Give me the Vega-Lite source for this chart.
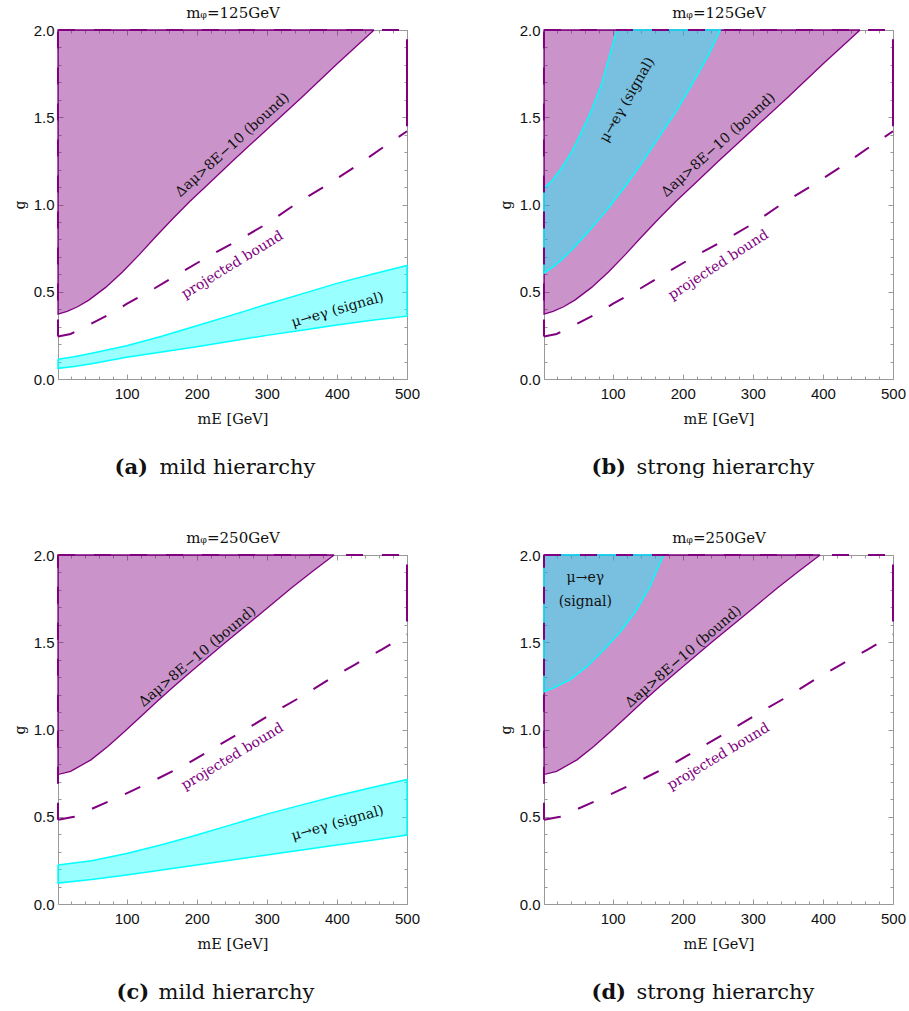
{
"$schema":"https://vega.github.io/schema/vega-lite/v6.json",
"background":"white",
"padding":{"left":12,"top":4,"right":2,"bottom":2},
"config":{"view":{"stroke":"#999999","strokeWidth":1},
"axis":{"grid":false,"domain":false,"tickColor":"#999999","tickWidth":1,"labelFont":"Liberation Sans","labelFontSize":15,"labelColor":"#111111","titleFont":"DejaVu Serif","titleFontWeight":"normal","titleColor":"#111111","labelFlush":false,"labelOverlap":false,"titleLimit":0}},
"datasets":{"d":[
{"c":"B125","x":2,"y":0.372,"y2":2},{"c":"B125","x":15,"y":0.388,"y2":2},{"c":"B125","x":30,"y":0.414,"y2":2},{"c":"B125","x":46,"y":0.452,"y2":2},{"c":"B125","x":70,"y":0.525,"y2":2},{"c":"B125","x":94,"y":0.613,"y2":2},{"c":"B125","x":118,"y":0.713,"y2":2},{"c":"B125","x":142,"y":0.818,"y2":2},{"c":"B125","x":166,"y":0.92,"y2":2},{"c":"B125","x":190,"y":1.017,"y2":2},{"c":"B125","x":220,"y":1.13,"y2":2},{"c":"B125","x":250,"y":1.245,"y2":2},{"c":"B125","x":300,"y":1.43,"y2":2},{"c":"B125","x":350,"y":1.615,"y2":2},{"c":"B125","x":400,"y":1.805,"y2":2},{"c":"B125","x":453,"y":2,"y2":2},
{"c":"b125","o":0,"x":453,"y":2},{"c":"b125","o":1,"x":2,"y":2},{"c":"b125","o":2,"x":2,"y":0.372},{"c":"b125","o":3,"x":15,"y":0.388},{"c":"b125","o":4,"x":30,"y":0.414},{"c":"b125","o":5,"x":46,"y":0.452},{"c":"b125","o":6,"x":70,"y":0.525},{"c":"b125","o":7,"x":94,"y":0.613},{"c":"b125","o":8,"x":118,"y":0.713},{"c":"b125","o":9,"x":142,"y":0.818},{"c":"b125","o":10,"x":166,"y":0.92},{"c":"b125","o":11,"x":190,"y":1.017},{"c":"b125","o":12,"x":220,"y":1.13},{"c":"b125","o":13,"x":250,"y":1.245},{"c":"b125","o":14,"x":300,"y":1.43},{"c":"b125","o":15,"x":350,"y":1.615},{"c":"b125","o":16,"x":400,"y":1.805},{"c":"b125","o":17,"x":453,"y":2},
{"c":"B250","x":2,"y":0.742,"y2":2},{"c":"B250","x":20,"y":0.76,"y2":2},{"c":"B250","x":49,"y":0.826,"y2":2},{"c":"B250","x":73,"y":0.903,"y2":2},{"c":"B250","x":97,"y":0.988,"y2":2},{"c":"B250","x":121,"y":1.077,"y2":2},{"c":"B250","x":144,"y":1.163,"y2":2},{"c":"B250","x":168,"y":1.249,"y2":2},{"c":"B250","x":192,"y":1.332,"y2":2},{"c":"B250","x":216,"y":1.414,"y2":2},{"c":"B250","x":240,"y":1.495,"y2":2},{"c":"B250","x":263,"y":1.572,"y2":2},{"c":"B250","x":287,"y":1.651,"y2":2},{"c":"B250","x":311,"y":1.731,"y2":2},{"c":"B250","x":335,"y":1.811,"y2":2},{"c":"B250","x":365,"y":1.905,"y2":2},{"c":"B250","x":396,"y":2,"y2":2},
{"c":"b250","o":0,"x":396,"y":2},{"c":"b250","o":1,"x":2,"y":2},{"c":"b250","o":2,"x":2,"y":0.742},{"c":"b250","o":3,"x":20,"y":0.76},{"c":"b250","o":4,"x":49,"y":0.826},{"c":"b250","o":5,"x":73,"y":0.903},{"c":"b250","o":6,"x":97,"y":0.988},{"c":"b250","o":7,"x":121,"y":1.077},{"c":"b250","o":8,"x":144,"y":1.163},{"c":"b250","o":9,"x":168,"y":1.249},{"c":"b250","o":10,"x":192,"y":1.332},{"c":"b250","o":11,"x":216,"y":1.414},{"c":"b250","o":12,"x":240,"y":1.495},{"c":"b250","o":13,"x":263,"y":1.572},{"c":"b250","o":14,"x":287,"y":1.651},{"c":"b250","o":15,"x":311,"y":1.731},{"c":"b250","o":16,"x":335,"y":1.811},{"c":"b250","o":17,"x":365,"y":1.905},{"c":"b250","o":18,"x":396,"y":2},
{"c":"d125","o":0,"x":2,"y":0.243},{"c":"d125","o":1,"x":20,"y":0.258},{"c":"d125","o":2,"x":46,"y":0.31},{"c":"d125","o":3,"x":75,"y":0.37},{"c":"d125","o":4,"x":100,"y":0.43},{"c":"d125","o":5,"x":140,"y":0.52},{"c":"d125","o":6,"x":180,"y":0.617},{"c":"d125","o":7,"x":220,"y":0.71},{"c":"d125","o":8,"x":265,"y":0.808},{"c":"d125","o":9,"x":300,"y":0.89},{"c":"d125","o":10,"x":342,"y":1.005},{"c":"d125","o":11,"x":385,"y":1.11},{"c":"d125","o":12,"x":427,"y":1.219},{"c":"d125","o":13,"x":465,"y":1.325},{"c":"d125","o":14,"x":500,"y":1.42},
{"c":"dt125","o":0,"x":2,"y":2},{"c":"dt125","o":1,"x":500,"y":2},
{"c":"dl125","o":0,"x":2,"y":0.243},{"c":"dl125","o":1,"x":2,"y":2},
{"c":"dr125","o":0,"x":500,"y":1.42},{"c":"dr125","o":1,"x":500,"y":2},
{"c":"d250","o":0,"x":2,"y":0.483},{"c":"d250","o":1,"x":25,"y":0.5},{"c":"d250","o":2,"x":50,"y":0.545},{"c":"d250","o":3,"x":90,"y":0.615},{"c":"d250","o":4,"x":140,"y":0.71},{"c":"d250","o":5,"x":185,"y":0.8},{"c":"d250","o":6,"x":225,"y":0.895},{"c":"d250","o":7,"x":270,"y":1.0},{"c":"d250","o":8,"x":311,"y":1.1},{"c":"d250","o":9,"x":350,"y":1.19},{"c":"d250","o":10,"x":390,"y":1.29},{"c":"d250","o":11,"x":427,"y":1.375},{"c":"d250","o":12,"x":465,"y":1.46},{"c":"d250","o":13,"x":500,"y":1.545},
{"c":"dt250","o":0,"x":2,"y":2},{"c":"dt250","o":1,"x":500,"y":2},
{"c":"dl250","o":0,"x":2,"y":0.483},{"c":"dl250","o":1,"x":2,"y":2},
{"c":"dr250","o":0,"x":500,"y":1.545},{"c":"dr250","o":1,"x":500,"y":2},
{"c":"SA","x":2,"y":0.061,"y2":0.113},{"c":"SA","x":25,"y":0.072,"y2":0.128},{"c":"SA","x":50,"y":0.087,"y2":0.147},{"c":"SA","x":100,"y":0.125,"y2":0.19},{"c":"SA","x":150,"y":0.155,"y2":0.245},{"c":"SA","x":200,"y":0.185,"y2":0.305},{"c":"SA","x":250,"y":0.218,"y2":0.366},{"c":"SA","x":300,"y":0.25,"y2":0.428},{"c":"SA","x":350,"y":0.28,"y2":0.488},{"c":"SA","x":400,"y":0.31,"y2":0.548},{"c":"SA","x":450,"y":0.336,"y2":0.6},{"c":"SA","x":500,"y":0.36,"y2":0.651},
{"c":"sa","o":0,"x":2,"y":0.113},{"c":"sa","o":1,"x":2,"y":0.061},{"c":"sa","o":2,"x":25,"y":0.072},{"c":"sa","o":3,"x":50,"y":0.087},{"c":"sa","o":4,"x":100,"y":0.125},{"c":"sa","o":5,"x":150,"y":0.155},{"c":"sa","o":6,"x":200,"y":0.185},{"c":"sa","o":7,"x":250,"y":0.218},{"c":"sa","o":8,"x":300,"y":0.25},{"c":"sa","o":9,"x":350,"y":0.28},{"c":"sa","o":10,"x":400,"y":0.31},{"c":"sa","o":11,"x":450,"y":0.336},{"c":"sa","o":12,"x":500,"y":0.36},{"c":"sa","o":13,"x":500,"y":0.651},{"c":"sa","o":14,"x":450,"y":0.6},{"c":"sa","o":15,"x":400,"y":0.548},{"c":"sa","o":16,"x":350,"y":0.488},{"c":"sa","o":17,"x":300,"y":0.428},{"c":"sa","o":18,"x":250,"y":0.366},{"c":"sa","o":19,"x":200,"y":0.305},{"c":"sa","o":20,"x":150,"y":0.245},{"c":"sa","o":21,"x":100,"y":0.19},{"c":"sa","o":22,"x":50,"y":0.147},{"c":"sa","o":23,"x":25,"y":0.128},{"c":"sa","o":24,"x":2,"y":0.113},
{"c":"SC","x":2,"y":0.12,"y2":0.2235},{"c":"SC","x":50,"y":0.14,"y2":0.248},{"c":"SC","x":100,"y":0.166,"y2":0.29},{"c":"SC","x":150,"y":0.195,"y2":0.34},{"c":"SC","x":200,"y":0.2235,"y2":0.395},{"c":"SC","x":250,"y":0.252,"y2":0.455},{"c":"SC","x":300,"y":0.281,"y2":0.515},{"c":"SC","x":350,"y":0.31,"y2":0.568},{"c":"SC","x":400,"y":0.338,"y2":0.62},{"c":"SC","x":450,"y":0.366,"y2":0.668},{"c":"SC","x":500,"y":0.395,"y2":0.714},
{"c":"sc","o":0,"x":2,"y":0.2235},{"c":"sc","o":1,"x":2,"y":0.12},{"c":"sc","o":2,"x":50,"y":0.14},{"c":"sc","o":3,"x":100,"y":0.166},{"c":"sc","o":4,"x":150,"y":0.195},{"c":"sc","o":5,"x":200,"y":0.2235},{"c":"sc","o":6,"x":250,"y":0.252},{"c":"sc","o":7,"x":300,"y":0.281},{"c":"sc","o":8,"x":350,"y":0.31},{"c":"sc","o":9,"x":400,"y":0.338},{"c":"sc","o":10,"x":450,"y":0.366},{"c":"sc","o":11,"x":500,"y":0.395},{"c":"sc","o":12,"x":500,"y":0.714},{"c":"sc","o":13,"x":450,"y":0.668},{"c":"sc","o":14,"x":400,"y":0.62},{"c":"sc","o":15,"x":350,"y":0.568},{"c":"sc","o":16,"x":300,"y":0.515},{"c":"sc","o":17,"x":250,"y":0.455},{"c":"sc","o":18,"x":200,"y":0.395},{"c":"sc","o":19,"x":150,"y":0.34},{"c":"sc","o":20,"x":100,"y":0.29},{"c":"sc","o":21,"x":50,"y":0.248},{"c":"sc","o":22,"x":2,"y":0.2235},
{"c":"SB","x":2,"y":0.607,"y2":1.095},{"c":"SB","x":13,"y":0.637,"y2":1.133},{"c":"SB","x":27,"y":0.683,"y2":1.209},{"c":"SB","x":42,"y":0.742,"y2":1.305},{"c":"SB","x":56,"y":0.803,"y2":1.419},{"c":"SB","x":70,"y":0.865,"y2":1.543},{"c":"SB","x":84,"y":0.932,"y2":1.687},{"c":"SB","x":94,"y":0.98,"y2":1.83},{"c":"SB","x":106,"y":1.043,"y2":2},{"c":"SB","x":118,"y":1.105,"y2":2},{"c":"SB","x":142,"y":1.24,"y2":2},{"c":"SB","x":165,"y":1.38,"y2":2},{"c":"SB","x":189,"y":1.524,"y2":2},{"c":"SB","x":213,"y":1.687,"y2":2},{"c":"SB","x":237,"y":1.859,"y2":2},{"c":"SB","x":253.4,"y":2,"y2":2},
{"c":"sb","o":0,"x":2,"y":1.095},{"c":"sb","o":1,"x":2,"y":0.607},{"c":"sb","o":2,"x":13,"y":0.637},{"c":"sb","o":3,"x":27,"y":0.683},{"c":"sb","o":4,"x":42,"y":0.742},{"c":"sb","o":5,"x":56,"y":0.803},{"c":"sb","o":6,"x":70,"y":0.865},{"c":"sb","o":7,"x":84,"y":0.932},{"c":"sb","o":8,"x":94,"y":0.98},{"c":"sb","o":9,"x":106,"y":1.043},{"c":"sb","o":10,"x":118,"y":1.105},{"c":"sb","o":11,"x":142,"y":1.24},{"c":"sb","o":12,"x":165,"y":1.38},{"c":"sb","o":13,"x":189,"y":1.524},{"c":"sb","o":14,"x":213,"y":1.687},{"c":"sb","o":15,"x":237,"y":1.859},{"c":"sb","o":16,"x":253.4,"y":2},{"c":"sb","o":17,"x":106,"y":2},{"c":"sb","o":18,"x":94,"y":1.83},{"c":"sb","o":19,"x":84,"y":1.687},{"c":"sb","o":20,"x":70,"y":1.543},{"c":"sb","o":21,"x":56,"y":1.419},{"c":"sb","o":22,"x":42,"y":1.305},{"c":"sb","o":23,"x":27,"y":1.209},{"c":"sb","o":24,"x":13,"y":1.133},{"c":"sb","o":25,"x":2,"y":1.095},
{"c":"SD","x":2,"y":1.217,"y2":2},{"c":"SD","x":15,"y":1.237,"y2":2},{"c":"SD","x":39,"y":1.284,"y2":2},{"c":"SD","x":63,"y":1.36,"y2":2},{"c":"SD","x":87,"y":1.455,"y2":2},{"c":"SD","x":111,"y":1.56,"y2":2},{"c":"SD","x":134,"y":1.685,"y2":2},{"c":"SD","x":153,"y":1.818,"y2":2},{"c":"SD","x":172.5,"y":2,"y2":2},
{"c":"sd","o":0,"x":2,"y":2},{"c":"sd","o":1,"x":2,"y":1.217},{"c":"sd","o":2,"x":15,"y":1.237},{"c":"sd","o":3,"x":39,"y":1.284},{"c":"sd","o":4,"x":63,"y":1.36},{"c":"sd","o":5,"x":87,"y":1.455},{"c":"sd","o":6,"x":111,"y":1.56},{"c":"sd","o":7,"x":134,"y":1.685},{"c":"sd","o":8,"x":153,"y":1.818},{"c":"sd","o":9,"x":172.5,"y":2},{"c":"sd","o":10,"x":2,"y":2},
{"c":"tb125","x":251,"y":1.341,"t":"Δaμ>8E−10 (bound)"},
{"c":"tp125","x":251,"y":0.653,"t":"projected bound"},
{"c":"tsa","x":401,"y":0.395,"t":"μ→eγ (signal)"},
{"c":"tsb","x":121,"y":1.599,"t":"μ→eγ (signal)"},
{"c":"tb250","x":201,"y":1.417,"t":"Δaμ>8E−10 (bound)"},
{"c":"tp250","x":251,"y":0.844,"t":"projected bound"},
{"c":"tsc","x":401,"y":0.462,"t":"μ→eγ (signal)"},
{"c":"tsd","x":61,"y":1.868,"t":"μ→eγ\n(signal)"}
]},
"data":{"name":"d"},
"columns":2,
"bounds":"flush",
"spacing":{"row":176,"column":137},
"concat":[
{"width":349,"height":349,"resolve":{"axis":{"x":"independent","y":"independent"}},
"layer":[
{"transform":[{"filter":"datum.c=='B125'"}],"mark":{"type":"area","color":"#800080","opacity":0.42},
"encoding":{"x":{"field":"x","type":"quantitative","scale":{"domain":[2,500],"nice":false,"zero":false},"axis":{"orient":"bottom","values":[100,200,300,400,500],"ticks":false,"labelPadding":7,"title":"mE [GeV]","titleFontSize":14.5,"titleY":40,"titleBaseline":"middle"}},
"y":{"field":"y","type":"quantitative","scale":{"domain":[0,2],"nice":false,"zero":false},"axis":{"orient":"left","values":[0,0.5,1,1.5,2],"format":".1f","ticks":false,"labelPadding":4,"title":"g","titleFontSize":14,"titleX":-38,"titleY":174.5,"titleAngle":-90,"titleBaseline":"middle","titleAlign":"center"}},"y2":{"field":"y2"}}},
{"transform":[{"filter":"datum.c=='SA'"}],"mark":{"type":"area","color":"#00FFFF","opacity":0.4},
"encoding":{"x":{"field":"x","type":"quantitative","scale":{"domain":[2,500],"nice":false,"zero":false},"axis":{"orient":"bottom","values":[100,200,300,400,500],"tickSize":-5,"labels":false,"title":"(a)","titleFontSize":21,"titleFontWeight":"bold","titleX":56,"titleY":94,"titleAlign":"left","titleBaseline":"alphabetic","titleAngle":0}},
"y":{"field":"y","type":"quantitative","scale":{"domain":[0,2],"nice":false,"zero":false},"axis":{"orient":"left","values":[0,0.5,1,1.5,2],"tickSize":-5,"labels":false,"title":null}},"y2":{"field":"y2"}}},
{"transform":[{"filter":"datum.c=='b125'"}],"mark":{"type":"line","color":"#800080","strokeWidth":1.3},
"encoding":{"x":{"field":"x","type":"quantitative","scale":{"domain":[2,500],"nice":false,"zero":false},"axis":{"orient":"top","values":[100,200,300,400,500],"tickSize":-5,"labels":false,"title":"mᵩ=125GeV","titleFontSize":15,"titleX":174.5,"titleY":-13,"titleBaseline":"alphabetic","titleAlign":"center"}},
"y":{"field":"y","type":"quantitative","scale":{"domain":[0,2],"nice":false,"zero":false},"axis":{"orient":"right","values":[0,0.5,1,1.5,2],"tickSize":-5,"labels":false,"title":null}},"order":{"field":"o","type":"quantitative"}}},
{"transform":[{"filter":"datum.c=='sa'"}],"mark":{"type":"line","color":"#00FFFF","strokeWidth":1.5},
"encoding":{"x":{"field":"x","type":"quantitative","scale":{"domain":[2,500],"nice":false,"zero":false},"axis":{"orient":"top","values":[20,40,60,80,120,140,160,180,220,240,260,280,320,340,360,380,420,440,460,480],"tickSize":-3,"labels":false,"title":null}},
"y":{"field":"y","type":"quantitative","scale":{"domain":[0,2],"nice":false,"zero":false},"axis":{"orient":"right","values":[0.1,0.2,0.3,0.4,0.6,0.7,0.8,0.9,1.1,1.2,1.3,1.4,1.6,1.7,1.8,1.9],"tickSize":-3,"labels":false,"title":null}},"order":{"field":"o","type":"quantitative"}}},
{"transform":[{"filter":{"field":"c","oneOf":["d125","dt125","dl125"]}}],"mark":{"type":"line","color":"#800080","strokeWidth":2,"strokeDash":[17,19]},
"encoding":{"x":{"field":"x","type":"quantitative","scale":{"domain":[2,500],"nice":false,"zero":false},"axis":{"orient":"bottom","values":[20,40,60,80,120,140,160,180,220,240,260,280,320,340,360,380,420,440,460,480],"tickSize":-3,"labels":false,"title":"mild hierarchy","titleFontSize":21,"titleX":101,"titleY":94,"titleAlign":"left","titleBaseline":"alphabetic","titleAngle":0}},
"y":{"field":"y","type":"quantitative","scale":{"domain":[0,2],"nice":false,"zero":false},"axis":{"orient":"left","values":[0.1,0.2,0.3,0.4,0.6,0.7,0.8,0.9,1.1,1.2,1.3,1.4,1.6,1.7,1.8,1.9],"tickSize":-3,"labels":false,"title":null}},"detail":{"field":"c"},"order":{"field":"o","type":"quantitative"}}},
{"transform":[{"filter":"datum.c=='dr125'"}],"mark":{"type":"line","color":"#800080","strokeWidth":2,"strokeDash":[87,400],"strokeDashOffset":482},
"encoding":{"x":{"field":"x","type":"quantitative","scale":{"domain":[2,500],"nice":false,"zero":false},"axis":null},"y":{"field":"y","type":"quantitative","scale":{"domain":[0,2],"nice":false,"zero":false},"axis":null},"order":{"field":"o","type":"quantitative"}}},
{"transform":[{"filter":"datum.c=='tb125'"}],"mark":{"type":"text","angle":318,"font":"DejaVu Serif","fontSize":14,"color":"#111111"},
"encoding":{"x":{"field":"x","type":"quantitative","scale":{"domain":[2,500],"nice":false,"zero":false},"axis":null},"y":{"field":"y","type":"quantitative","scale":{"domain":[0,2],"nice":false,"zero":false},"axis":null},"text":{"field":"t"}}},
{"transform":[{"filter":"datum.c=='tp125'"}],"mark":{"type":"text","angle":328.5,"font":"DejaVu Serif","fontSize":14,"color":"#800080"},
"encoding":{"x":{"field":"x","type":"quantitative","scale":{"domain":[2,500],"nice":false,"zero":false},"axis":null},"y":{"field":"y","type":"quantitative","scale":{"domain":[0,2],"nice":false,"zero":false},"axis":null},"text":{"field":"t"}}},
{"transform":[{"filter":"datum.c=='tsa'"}],"mark":{"type":"text","angle":344,"font":"DejaVu Serif","fontSize":14,"color":"#111111"},
"encoding":{"x":{"field":"x","type":"quantitative","scale":{"domain":[2,500],"nice":false,"zero":false},"axis":null},"y":{"field":"y","type":"quantitative","scale":{"domain":[0,2],"nice":false,"zero":false},"axis":null},"text":{"field":"t"}}}
]},
{"width":349,"height":349,"resolve":{"axis":{"x":"independent","y":"independent"}},
"layer":[
{"transform":[{"filter":"datum.c=='B125'"}],"mark":{"type":"area","color":"#800080","opacity":0.42},
"encoding":{"x":{"field":"x","type":"quantitative","scale":{"domain":[2,500],"nice":false,"zero":false},"axis":{"orient":"bottom","values":[100,200,300,400,500],"ticks":false,"labelPadding":7,"title":"mE [GeV]","titleFontSize":14.5,"titleY":40,"titleBaseline":"middle"}},
"y":{"field":"y","type":"quantitative","scale":{"domain":[0,2],"nice":false,"zero":false},"axis":{"orient":"left","values":[0,0.5,1,1.5,2],"format":".1f","ticks":false,"labelPadding":4,"title":"g","titleFontSize":14,"titleX":-38,"titleY":174.5,"titleAngle":-90,"titleBaseline":"middle","titleAlign":"center"}},"y2":{"field":"y2"}}},
{"transform":[{"filter":"datum.c=='SB'"}],"mark":{"type":"area","color":"#00FFFF","opacity":0.4},
"encoding":{"x":{"field":"x","type":"quantitative","scale":{"domain":[2,500],"nice":false,"zero":false},"axis":{"orient":"bottom","values":[100,200,300,400,500],"tickSize":-5,"labels":false,"title":"(b)","titleFontSize":21,"titleFontWeight":"bold","titleX":47,"titleY":94,"titleAlign":"left","titleBaseline":"alphabetic","titleAngle":0}},
"y":{"field":"y","type":"quantitative","scale":{"domain":[0,2],"nice":false,"zero":false},"axis":{"orient":"left","values":[0,0.5,1,1.5,2],"tickSize":-5,"labels":false,"title":null}},"y2":{"field":"y2"}}},
{"transform":[{"filter":"datum.c=='b125'"}],"mark":{"type":"line","color":"#800080","strokeWidth":1.3},
"encoding":{"x":{"field":"x","type":"quantitative","scale":{"domain":[2,500],"nice":false,"zero":false},"axis":{"orient":"top","values":[100,200,300,400,500],"tickSize":-5,"labels":false,"title":"mᵩ=125GeV","titleFontSize":15,"titleX":174.5,"titleY":-13,"titleBaseline":"alphabetic","titleAlign":"center"}},
"y":{"field":"y","type":"quantitative","scale":{"domain":[0,2],"nice":false,"zero":false},"axis":{"orient":"right","values":[0,0.5,1,1.5,2],"tickSize":-5,"labels":false,"title":null}},"order":{"field":"o","type":"quantitative"}}},
{"transform":[{"filter":"datum.c=='sb'"}],"mark":{"type":"line","color":"#00FFFF","strokeWidth":1.5},
"encoding":{"x":{"field":"x","type":"quantitative","scale":{"domain":[2,500],"nice":false,"zero":false},"axis":{"orient":"top","values":[20,40,60,80,120,140,160,180,220,240,260,280,320,340,360,380,420,440,460,480],"tickSize":-3,"labels":false,"title":null}},
"y":{"field":"y","type":"quantitative","scale":{"domain":[0,2],"nice":false,"zero":false},"axis":{"orient":"right","values":[0.1,0.2,0.3,0.4,0.6,0.7,0.8,0.9,1.1,1.2,1.3,1.4,1.6,1.7,1.8,1.9],"tickSize":-3,"labels":false,"title":null}},"order":{"field":"o","type":"quantitative"}}},
{"transform":[{"filter":{"field":"c","oneOf":["d125","dt125","dl125"]}}],"mark":{"type":"line","color":"#800080","strokeWidth":2,"strokeDash":[17,19]},
"encoding":{"x":{"field":"x","type":"quantitative","scale":{"domain":[2,500],"nice":false,"zero":false},"axis":{"orient":"bottom","values":[20,40,60,80,120,140,160,180,220,240,260,280,320,340,360,380,420,440,460,480],"tickSize":-3,"labels":false,"title":"strong hierarchy","titleFontSize":21,"titleX":92,"titleY":94,"titleAlign":"left","titleBaseline":"alphabetic","titleAngle":0}},
"y":{"field":"y","type":"quantitative","scale":{"domain":[0,2],"nice":false,"zero":false},"axis":{"orient":"left","values":[0.1,0.2,0.3,0.4,0.6,0.7,0.8,0.9,1.1,1.2,1.3,1.4,1.6,1.7,1.8,1.9],"tickSize":-3,"labels":false,"title":null}},"detail":{"field":"c"},"order":{"field":"o","type":"quantitative"}}},
{"transform":[{"filter":"datum.c=='dr125'"}],"mark":{"type":"line","color":"#800080","strokeWidth":2,"strokeDash":[87,400],"strokeDashOffset":482},
"encoding":{"x":{"field":"x","type":"quantitative","scale":{"domain":[2,500],"nice":false,"zero":false},"axis":null},"y":{"field":"y","type":"quantitative","scale":{"domain":[0,2],"nice":false,"zero":false},"axis":null},"order":{"field":"o","type":"quantitative"}}},
{"transform":[{"filter":"datum.c=='tb125'"}],"mark":{"type":"text","angle":318,"font":"DejaVu Serif","fontSize":14,"color":"#111111"},
"encoding":{"x":{"field":"x","type":"quantitative","scale":{"domain":[2,500],"nice":false,"zero":false},"axis":null},"y":{"field":"y","type":"quantitative","scale":{"domain":[0,2],"nice":false,"zero":false},"axis":null},"text":{"field":"t"}}},
{"transform":[{"filter":"datum.c=='tp125'"}],"mark":{"type":"text","angle":327,"font":"DejaVu Serif","fontSize":14,"color":"#800080"},
"encoding":{"x":{"field":"x","type":"quantitative","scale":{"domain":[2,500],"nice":false,"zero":false},"axis":null},"y":{"field":"y","type":"quantitative","scale":{"domain":[0,2],"nice":false,"zero":false},"axis":null},"text":{"field":"t"}}},
{"transform":[{"filter":"datum.c=='tsb'"}],"mark":{"type":"text","angle":300,"font":"DejaVu Serif","fontSize":14,"color":"#111111"},
"encoding":{"x":{"field":"x","type":"quantitative","scale":{"domain":[2,500],"nice":false,"zero":false},"axis":null},"y":{"field":"y","type":"quantitative","scale":{"domain":[0,2],"nice":false,"zero":false},"axis":null},"text":{"field":"t"}}}
]},
{"width":349,"height":349,"resolve":{"axis":{"x":"independent","y":"independent"}},
"layer":[
{"transform":[{"filter":"datum.c=='B250'"}],"mark":{"type":"area","color":"#800080","opacity":0.42},
"encoding":{"x":{"field":"x","type":"quantitative","scale":{"domain":[2,500],"nice":false,"zero":false},"axis":{"orient":"bottom","values":[100,200,300,400,500],"ticks":false,"labelPadding":7,"title":"mE [GeV]","titleFontSize":14.5,"titleY":40,"titleBaseline":"middle"}},
"y":{"field":"y","type":"quantitative","scale":{"domain":[0,2],"nice":false,"zero":false},"axis":{"orient":"left","values":[0,0.5,1,1.5,2],"format":".1f","ticks":false,"labelPadding":4,"title":"g","titleFontSize":14,"titleX":-38,"titleY":174.5,"titleAngle":-90,"titleBaseline":"middle","titleAlign":"center"}},"y2":{"field":"y2"}}},
{"transform":[{"filter":"datum.c=='SC'"}],"mark":{"type":"area","color":"#00FFFF","opacity":0.4},
"encoding":{"x":{"field":"x","type":"quantitative","scale":{"domain":[2,500],"nice":false,"zero":false},"axis":{"orient":"bottom","values":[100,200,300,400,500],"tickSize":-5,"labels":false,"title":"(c)","titleFontSize":21,"titleFontWeight":"bold","titleX":58,"titleY":94,"titleAlign":"left","titleBaseline":"alphabetic","titleAngle":0}},
"y":{"field":"y","type":"quantitative","scale":{"domain":[0,2],"nice":false,"zero":false},"axis":{"orient":"left","values":[0,0.5,1,1.5,2],"tickSize":-5,"labels":false,"title":null}},"y2":{"field":"y2"}}},
{"transform":[{"filter":"datum.c=='b250'"}],"mark":{"type":"line","color":"#800080","strokeWidth":1.3},
"encoding":{"x":{"field":"x","type":"quantitative","scale":{"domain":[2,500],"nice":false,"zero":false},"axis":{"orient":"top","values":[100,200,300,400,500],"tickSize":-5,"labels":false,"title":"mᵩ=250GeV","titleFontSize":15,"titleX":174.5,"titleY":-13,"titleBaseline":"alphabetic","titleAlign":"center"}},
"y":{"field":"y","type":"quantitative","scale":{"domain":[0,2],"nice":false,"zero":false},"axis":{"orient":"right","values":[0,0.5,1,1.5,2],"tickSize":-5,"labels":false,"title":null}},"order":{"field":"o","type":"quantitative"}}},
{"transform":[{"filter":"datum.c=='sc'"}],"mark":{"type":"line","color":"#00FFFF","strokeWidth":1.5},
"encoding":{"x":{"field":"x","type":"quantitative","scale":{"domain":[2,500],"nice":false,"zero":false},"axis":{"orient":"top","values":[20,40,60,80,120,140,160,180,220,240,260,280,320,340,360,380,420,440,460,480],"tickSize":-3,"labels":false,"title":null}},
"y":{"field":"y","type":"quantitative","scale":{"domain":[0,2],"nice":false,"zero":false},"axis":{"orient":"right","values":[0.1,0.2,0.3,0.4,0.6,0.7,0.8,0.9,1.1,1.2,1.3,1.4,1.6,1.7,1.8,1.9],"tickSize":-3,"labels":false,"title":null}},"order":{"field":"o","type":"quantitative"}}},
{"transform":[{"filter":{"field":"c","oneOf":["d250","dt250","dl250"]}}],"mark":{"type":"line","color":"#800080","strokeWidth":2,"strokeDash":[17,19]},
"encoding":{"x":{"field":"x","type":"quantitative","scale":{"domain":[2,500],"nice":false,"zero":false},"axis":{"orient":"bottom","values":[20,40,60,80,120,140,160,180,220,240,260,280,320,340,360,380,420,440,460,480],"tickSize":-3,"labels":false,"title":"mild hierarchy","titleFontSize":21,"titleX":100,"titleY":94,"titleAlign":"left","titleBaseline":"alphabetic","titleAngle":0}},
"y":{"field":"y","type":"quantitative","scale":{"domain":[0,2],"nice":false,"zero":false},"axis":{"orient":"left","values":[0.1,0.2,0.3,0.4,0.6,0.7,0.8,0.9,1.1,1.2,1.3,1.4,1.6,1.7,1.8,1.9],"tickSize":-3,"labels":false,"title":null}},"detail":{"field":"c"},"order":{"field":"o","type":"quantitative"}}},
{"transform":[{"filter":"datum.c=='dr250'"}],"mark":{"type":"line","color":"#800080","strokeWidth":2,"strokeDash":[57,400],"strokeDashOffset":444},
"encoding":{"x":{"field":"x","type":"quantitative","scale":{"domain":[2,500],"nice":false,"zero":false},"axis":null},"y":{"field":"y","type":"quantitative","scale":{"domain":[0,2],"nice":false,"zero":false},"axis":null},"order":{"field":"o","type":"quantitative"}}},
{"transform":[{"filter":"datum.c=='tb250'"}],"mark":{"type":"text","angle":320,"font":"DejaVu Serif","fontSize":14,"color":"#111111"},
"encoding":{"x":{"field":"x","type":"quantitative","scale":{"domain":[2,500],"nice":false,"zero":false},"axis":null},"y":{"field":"y","type":"quantitative","scale":{"domain":[0,2],"nice":false,"zero":false},"axis":null},"text":{"field":"t"}}},
{"transform":[{"filter":"datum.c=='tp250'"}],"mark":{"type":"text","angle":329,"font":"DejaVu Serif","fontSize":14,"color":"#800080"},
"encoding":{"x":{"field":"x","type":"quantitative","scale":{"domain":[2,500],"nice":false,"zero":false},"axis":null},"y":{"field":"y","type":"quantitative","scale":{"domain":[0,2],"nice":false,"zero":false},"axis":null},"text":{"field":"t"}}},
{"transform":[{"filter":"datum.c=='tsc'"}],"mark":{"type":"text","angle":344,"font":"DejaVu Serif","fontSize":14,"color":"#111111"},
"encoding":{"x":{"field":"x","type":"quantitative","scale":{"domain":[2,500],"nice":false,"zero":false},"axis":null},"y":{"field":"y","type":"quantitative","scale":{"domain":[0,2],"nice":false,"zero":false},"axis":null},"text":{"field":"t"}}}
]},
{"width":349,"height":349,"resolve":{"axis":{"x":"independent","y":"independent"}},
"layer":[
{"transform":[{"filter":"datum.c=='B250'"}],"mark":{"type":"area","color":"#800080","opacity":0.42},
"encoding":{"x":{"field":"x","type":"quantitative","scale":{"domain":[2,500],"nice":false,"zero":false},"axis":{"orient":"bottom","values":[100,200,300,400,500],"ticks":false,"labelPadding":7,"title":"mE [GeV]","titleFontSize":14.5,"titleY":40,"titleBaseline":"middle"}},
"y":{"field":"y","type":"quantitative","scale":{"domain":[0,2],"nice":false,"zero":false},"axis":{"orient":"left","values":[0,0.5,1,1.5,2],"format":".1f","ticks":false,"labelPadding":4,"title":"g","titleFontSize":14,"titleX":-38,"titleY":174.5,"titleAngle":-90,"titleBaseline":"middle","titleAlign":"center"}},"y2":{"field":"y2"}}},
{"transform":[{"filter":"datum.c=='SD'"}],"mark":{"type":"area","color":"#00FFFF","opacity":0.4},
"encoding":{"x":{"field":"x","type":"quantitative","scale":{"domain":[2,500],"nice":false,"zero":false},"axis":{"orient":"bottom","values":[100,200,300,400,500],"tickSize":-5,"labels":false,"title":"(d)","titleFontSize":21,"titleFontWeight":"bold","titleX":47,"titleY":94,"titleAlign":"left","titleBaseline":"alphabetic","titleAngle":0}},
"y":{"field":"y","type":"quantitative","scale":{"domain":[0,2],"nice":false,"zero":false},"axis":{"orient":"left","values":[0,0.5,1,1.5,2],"tickSize":-5,"labels":false,"title":null}},"y2":{"field":"y2"}}},
{"transform":[{"filter":"datum.c=='b250'"}],"mark":{"type":"line","color":"#800080","strokeWidth":1.3},
"encoding":{"x":{"field":"x","type":"quantitative","scale":{"domain":[2,500],"nice":false,"zero":false},"axis":{"orient":"top","values":[100,200,300,400,500],"tickSize":-5,"labels":false,"title":"mᵩ=250GeV","titleFontSize":15,"titleX":174.5,"titleY":-13,"titleBaseline":"alphabetic","titleAlign":"center"}},
"y":{"field":"y","type":"quantitative","scale":{"domain":[0,2],"nice":false,"zero":false},"axis":{"orient":"right","values":[0,0.5,1,1.5,2],"tickSize":-5,"labels":false,"title":null}},"order":{"field":"o","type":"quantitative"}}},
{"transform":[{"filter":"datum.c=='sd'"}],"mark":{"type":"line","color":"#00FFFF","strokeWidth":1.5},
"encoding":{"x":{"field":"x","type":"quantitative","scale":{"domain":[2,500],"nice":false,"zero":false},"axis":{"orient":"top","values":[20,40,60,80,120,140,160,180,220,240,260,280,320,340,360,380,420,440,460,480],"tickSize":-3,"labels":false,"title":null}},
"y":{"field":"y","type":"quantitative","scale":{"domain":[0,2],"nice":false,"zero":false},"axis":{"orient":"right","values":[0.1,0.2,0.3,0.4,0.6,0.7,0.8,0.9,1.1,1.2,1.3,1.4,1.6,1.7,1.8,1.9],"tickSize":-3,"labels":false,"title":null}},"order":{"field":"o","type":"quantitative"}}},
{"transform":[{"filter":{"field":"c","oneOf":["d250","dt250","dl250"]}}],"mark":{"type":"line","color":"#800080","strokeWidth":2,"strokeDash":[17,19]},
"encoding":{"x":{"field":"x","type":"quantitative","scale":{"domain":[2,500],"nice":false,"zero":false},"axis":{"orient":"bottom","values":[20,40,60,80,120,140,160,180,220,240,260,280,320,340,360,380,420,440,460,480],"tickSize":-3,"labels":false,"title":"strong hierarchy","titleFontSize":21,"titleX":92,"titleY":94,"titleAlign":"left","titleBaseline":"alphabetic","titleAngle":0}},
"y":{"field":"y","type":"quantitative","scale":{"domain":[0,2],"nice":false,"zero":false},"axis":{"orient":"left","values":[0.1,0.2,0.3,0.4,0.6,0.7,0.8,0.9,1.1,1.2,1.3,1.4,1.6,1.7,1.8,1.9],"tickSize":-3,"labels":false,"title":null}},"detail":{"field":"c"},"order":{"field":"o","type":"quantitative"}}},
{"transform":[{"filter":"datum.c=='dr250'"}],"mark":{"type":"line","color":"#800080","strokeWidth":2,"strokeDash":[57,400],"strokeDashOffset":444},
"encoding":{"x":{"field":"x","type":"quantitative","scale":{"domain":[2,500],"nice":false,"zero":false},"axis":null},"y":{"field":"y","type":"quantitative","scale":{"domain":[0,2],"nice":false,"zero":false},"axis":null},"order":{"field":"o","type":"quantitative"}}},
{"transform":[{"filter":"datum.c=='tb250'"}],"mark":{"type":"text","angle":319.3,"font":"DejaVu Serif","fontSize":14,"color":"#111111"},
"encoding":{"x":{"field":"x","type":"quantitative","scale":{"domain":[2,500],"nice":false,"zero":false},"axis":null},"y":{"field":"y","type":"quantitative","scale":{"domain":[0,2],"nice":false,"zero":false},"axis":null},"text":{"field":"t"}}},
{"transform":[{"filter":"datum.c=='tp250'"}],"mark":{"type":"text","angle":329,"font":"DejaVu Serif","fontSize":14,"color":"#800080"},
"encoding":{"x":{"field":"x","type":"quantitative","scale":{"domain":[2,500],"nice":false,"zero":false},"axis":null},"y":{"field":"y","type":"quantitative","scale":{"domain":[0,2],"nice":false,"zero":false},"axis":null},"text":{"field":"t"}}},
{"transform":[{"filter":"datum.c=='tsd'"}],"mark":{"type":"text","angle":0,"font":"DejaVu Serif","fontSize":14,"color":"#111111","lineBreak":"\n","lineHeight":24},
"encoding":{"x":{"field":"x","type":"quantitative","scale":{"domain":[2,500],"nice":false,"zero":false},"axis":null},"y":{"field":"y","type":"quantitative","scale":{"domain":[0,2],"nice":false,"zero":false},"axis":null},"text":{"field":"t"}}}
]}
]}
